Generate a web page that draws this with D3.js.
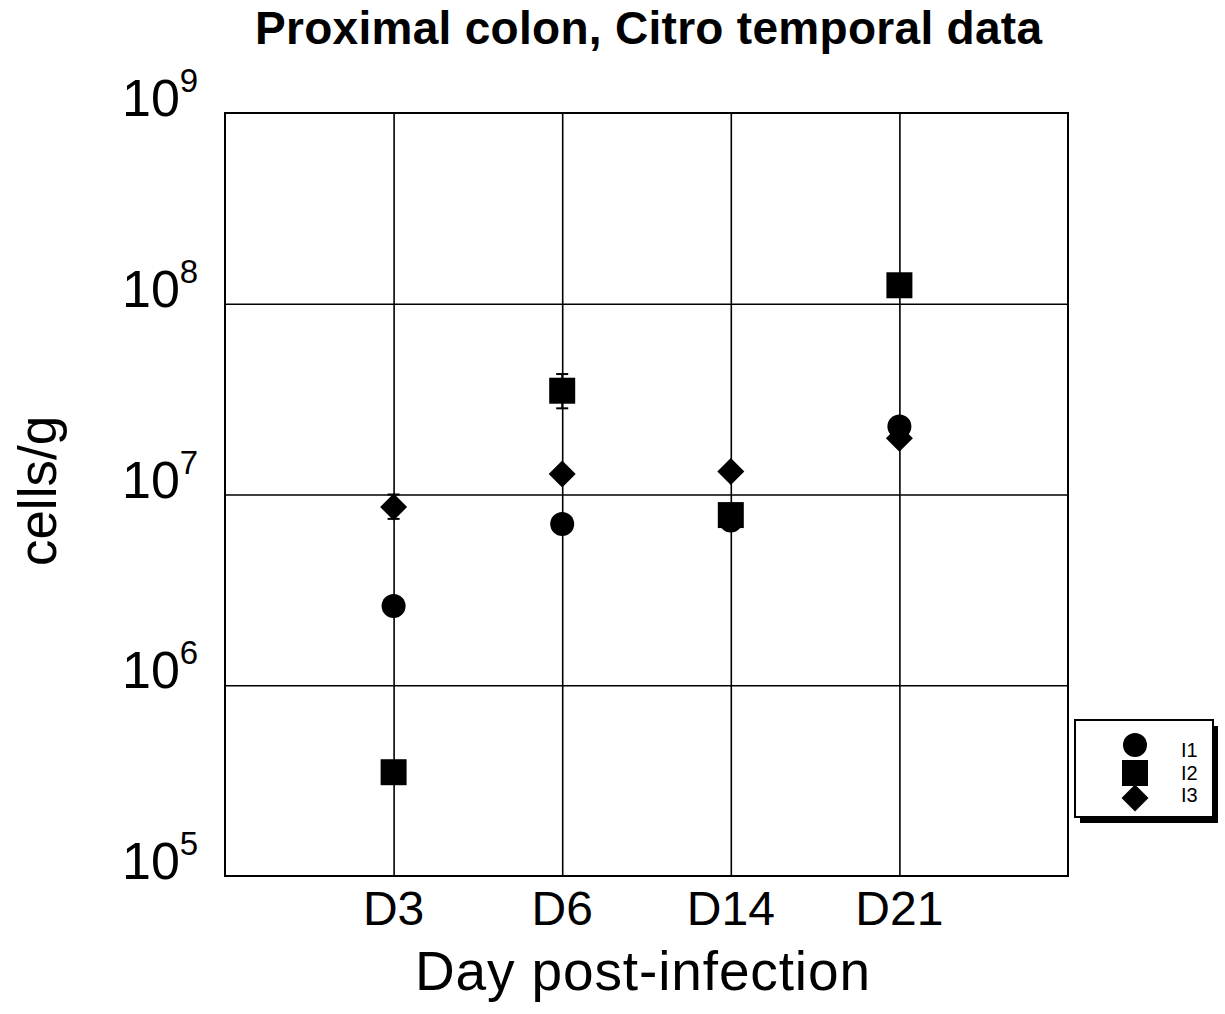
<!DOCTYPE html>
<html>
<head>
<meta charset="utf-8">
<script src="https://cdn.jsdelivr.net/npm/d3@7"></script>
<style>
  html, body { margin: 0; padding: 0; background: #fff; }
  text { font-family: "Liberation Sans", Arial, Helvetica, sans-serif; fill: #000; }
</style>
</head>
<body>
<svg id="chart" width="1225" height="1014"></svg>
<script>
const categories = ["D3", "D6", "D14", "D21"];
const seriesNames = ["I1", "I2", "I3"];
const i1Values = [2.6e6, 7.0e6, 7.3e6, 2.27e7];
const i2Values = [3.5e5, 3.5e7, 7.8e6, 1.25e8];
const i3Values = [8.6e6, 1.28e7, 1.32e7, 1.97e7];
// error bars [low, high] or null
const i2Errors = [null, [2.83e7, 4.28e7], null, null];
const i3Errors = [[7.45e6, 1.0e7], null, null, null];
const yTickExponents = [5, 6, 7, 8, 9];
const gridExponents = [6, 7, 8];
const titleText = "Proximal colon, Citro temporal data";
const xTitle = "Day post-infection";
const yTitle = "cells/g";

(function () {
const svg = d3.select("#chart");
const pLeft = 225, pRight = 1068, pTop = 113, pBottom = 876;

const x = d3.scalePoint().domain(categories).range([pLeft, pRight]).padding(1);
const y = d3.scaleLog().domain([1e5, 1e9]).range([pBottom, pTop]);

// Gridlines
const g = svg.append("g");
g.append("g")
  .attr("transform", `translate(${pLeft},0)`)
  .call(d3.axisLeft(y).tickValues(gridExponents.map(e => Math.pow(10, e)))
        .tickSize(-(pRight - pLeft)).tickFormat(""))
  .call(s => s.select(".domain").remove())
  .call(s => s.selectAll("line").attr("stroke", "#000").attr("stroke-width", 1.6));
g.append("g")
  .attr("transform", `translate(0,${pBottom})`)
  .call(d3.axisBottom(x).tickSize(-(pBottom - pTop)).tickFormat(""))
  .call(s => s.select(".domain").remove())
  .call(s => s.selectAll("line").attr("stroke", "#000").attr("stroke-width", 1.6));

// Frame
svg.append("rect").attr("x", pLeft).attr("y", pTop)
  .attr("width", pRight - pLeft).attr("height", pBottom - pTop)
  .attr("fill", "none").attr("stroke", "#000").attr("stroke-width", 2);

// Y tick labels 10^n
yTickExponents.forEach(e => {
  const t = svg.append("text")
    .attr("x", 122).attr("y", y(Math.pow(10, e)) + 3)
    .attr("font-size", 52);
  t.append("tspan").text("10");
  t.append("tspan").attr("font-size", 33).attr("dy", -24).text(String(e));
});

// X tick labels
svg.append("g").selectAll("text").data(categories).join("text")
  .attr("x", d => x(d)).attr("y", 925)
  .attr("text-anchor", "middle").attr("font-size", 48)
  .text(d => d);

// Titles
svg.append("text").attr("x", 255).attr("y", 44)
  .attr("font-size", 46).attr("font-weight", "bold")
  .attr("textLength", 787).attr("lengthAdjust", "spacing")
  .text(titleText);
svg.append("text").attr("x", 415).attr("y", 990)
  .attr("font-size", 55)
  .attr("textLength", 455).attr("lengthAdjust", "spacing")
  .text(xTitle);
svg.append("text")
  .attr("transform", "translate(56,491) rotate(-90)")
  .attr("text-anchor", "middle").attr("font-size", 53)
  .text(yTitle);

// Marker shapes
const circleSym = d3.symbol().type(d3.symbolCircle).size(Math.PI * 12 * 12);
const squareSym = d3.symbol().type(d3.symbolSquare).size(26 * 26);
function diamondPath(h) { return `M0,${-h}L${h},0L0,${h}L${-h},0Z`; }

function drawErrors(errors) {
  const eg = svg.append("g").attr("stroke", "#000").attr("stroke-width", 2);
  errors.forEach((e, i) => {
    if (!e) return;
    const cx = x(categories[i]);
    eg.append("line").attr("x1", cx).attr("x2", cx).attr("y1", y(e[0])).attr("y2", y(e[1]));
    [e[0], e[1]].forEach(v => {
      eg.append("line").attr("x1", cx - 6).attr("x2", cx + 6).attr("y1", y(v)).attr("y2", y(v));
    });
  });
}
drawErrors(i2Errors);
drawErrors(i3Errors);

svg.append("g").selectAll("path").data(i3Values).join("path")
  .attr("d", diamondPath(13.5))
  .attr("transform", (d, i) => `translate(${x(categories[i])},${y(d)})`)
  .attr("fill", "#000");
svg.append("g").selectAll("path").data(i1Values).join("path")
  .attr("d", circleSym())
  .attr("transform", (d, i) => `translate(${x(categories[i])},${y(d)})`)
  .attr("fill", "#000");
svg.append("g").selectAll("path").data(i2Values).join("path")
  .attr("d", squareSym())
  .attr("transform", (d, i) => `translate(${x(categories[i])},${y(d)})`)
  .attr("fill", "#000");

// Legend
const lg = svg.append("g");
lg.append("rect").attr("x", 1080).attr("y", 726).attr("width", 138).attr("height", 97).attr("fill", "#000");
lg.append("rect").attr("x", 1075).attr("y", 720).attr("width", 138).attr("height", 97)
  .attr("fill", "#fff").attr("stroke", "#000").attr("stroke-width", 2);
const legendShapes = [circleSym(), squareSym(), diamondPath(13.5)];
const legendMarkerY = [745, 773, 798];
const legendTextY = [757, 779.5, 802];
seriesNames.forEach((name, i) => {
  lg.append("path").attr("d", legendShapes[i])
    .attr("transform", `translate(1135,${legendMarkerY[i]})`).attr("fill", "#000");
  lg.append("text").attr("x", 1181).attr("y", legendTextY[i])
    .attr("font-size", 20).text(name);
});
})();
</script>
</body>
</html>
